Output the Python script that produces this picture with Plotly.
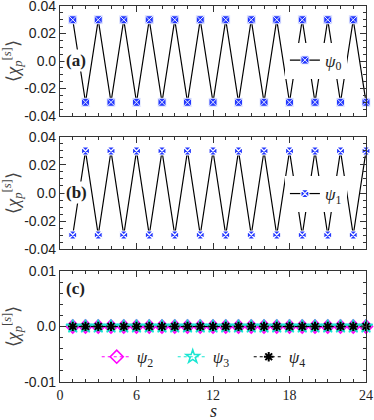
import plotly.graph_objects as go
from plotly.subplots import make_subplots

# data
s = list(range(1, 25))
psi0 = [0.03, -0.03, 0.03, -0.03, 0.03, -0.03, 0.03, -0.03, 0.03, -0.03, 0.03, -0.03,
        0.03, -0.03, 0.03, -0.03, 0.03, -0.03, 0.03, -0.03, 0.03, -0.03, 0.03, -0.03]
psi1 = [-0.03, 0.03, -0.03, 0.03, -0.03, 0.03, -0.03, 0.03, -0.03, 0.03, -0.03, 0.03,
        -0.03, 0.03, -0.03, 0.03, -0.03, 0.03, -0.03, 0.03, -0.03, 0.03, -0.03, 0.03]
psi2 = [0.0] * 24
psi3 = [0.0] * 24
psi4 = [0.0] * 24

ab_ticks = [-0.04, -0.02, 0.0, 0.02, 0.04]
ab_labels = ["-0.04", "-0.02", "0.0", "0.02", "0.04"]
c_ticks = [-0.01, 0.0, 0.01]
c_labels = ["-0.01", "0.0", "0.01"]
x_ticks = [0, 6, 12, 18, 24]

SERIF = "Liberation Serif"
SANS = "Liberation Sans"
BLUE = "#2438ff"

fig = make_subplots(rows=3, cols=1, shared_xaxes=True)

fig.add_trace(go.Scatter(
    x=s, y=psi0, mode="lines+markers", name="<i>ψ</i><sub>0</sub>",
    line=dict(color="black", width=1.2),
    marker=dict(symbol="square-x", size=8, color=BLUE, line=dict(color="#e8ecff", width=1)),
    cliponaxis=False, legend="legend", showlegend=True), row=1, col=1)

fig.add_trace(go.Scatter(
    x=s, y=psi1, mode="lines+markers", name="<i>ψ</i><sub>1</sub>",
    line=dict(color="black", width=1.2),
    marker=dict(symbol="square-x", size=8, color=BLUE, line=dict(color="white", width=1.2)),
    cliponaxis=False, legend="legend2", showlegend=True), row=2, col=1)

fig.add_trace(go.Scatter(
    x=s, y=psi2, mode="lines+markers", name="<i>ψ</i><sub>2</sub>",
    line=dict(color="magenta", width=1.2, dash="dot"),
    marker=dict(symbol="diamond-open", size=10, color="magenta", line=dict(width=1.6)),
    cliponaxis=False, legend="legend3"), row=3, col=1)

fig.add_trace(go.Scatter(
    x=s, y=psi3, mode="lines+markers", name="<i>ψ</i><sub>3</sub>",
    line=dict(color="#19e6d2", width=1.2, dash="dot"),
    marker=dict(symbol="star-open", size=10, color="#19e6d2", line=dict(width=1.5)),
    cliponaxis=False, legend="legend3"), row=3, col=1)

fig.add_trace(go.Scatter(
    x=s, y=psi4, mode="lines+markers", name="<i>ψ</i><sub>4</sub>",
    line=dict(color="black", width=1.2, dash="dot"),
    marker=dict(symbol="asterisk-open", size=8, color="black", line=dict(width=2)),
    cliponaxis=False, legend="legend3"), row=3, col=1)

axis_common = dict(showline=True, linecolor="#333", linewidth=1.2, mirror="allticks",
                   ticks="inside", ticklen=6, tickcolor="#333", showgrid=False,
                   zeroline=False, automargin=False, ticklabeloverflow="allow")

domains = [[0.7074, 1.0], [0.3537, 0.6516], [0.0, 0.2952]]
for i in range(3):
    fig.update_xaxes(axis_common, range=[0, 24], tickvals=x_ticks,
                     minor=dict(dtick=1, ticklen=3, ticks="inside", tickcolor="#333"),
                     showticklabels=(i == 2), tickfont=dict(family=SERIF, size=14, color="#222"),
                     row=i + 1, col=1)
    fig.update_yaxes(axis_common, domain=domains[i], row=i + 1, col=1,
                     tickfont=dict(family=SANS, size=14, color="#222"),
                     title=dict(text="⟨<i>χ</i><sub><i>p</i></sub><sup>[<i>s</i>]</sup>⟩",
                                font=dict(family=SERIF, size=18, color="#444"), standoff=5))

fig.update_yaxes(range=[-0.04, 0.04], tickvals=ab_ticks, ticktext=ab_labels,
                 minor=dict(dtick=0.005, ticklen=3, ticks="inside", tickcolor="#333"), row=1, col=1)
fig.update_yaxes(range=[-0.04, 0.04], tickvals=ab_ticks, ticktext=ab_labels,
                 minor=dict(dtick=0.005, ticklen=3, ticks="inside", tickcolor="#333"), row=2, col=1)
fig.update_yaxes(range=[-0.01, 0.01], tickvals=c_ticks, ticktext=c_labels,
                 minor=dict(dtick=0.002, ticklen=3, ticks="inside", tickcolor="#333"), row=3, col=1)

leg_font = dict(family=SERIF, size=17, color="#222")
panel_font = dict(family=SERIF, size=17, color="#222")
fig.update_layout(
    width=374, height=420,
    margin=dict(l=60, r=8, t=6, b=38),
    plot_bgcolor="white", paper_bgcolor="white",
    showlegend=True,
    legend=dict(x=0.735, y=0.855, xanchor="left", yanchor="middle",
                bgcolor="white", font=leg_font, itemwidth=30),
    legend2=dict(x=0.735, y=0.50, xanchor="left", yanchor="middle",
                 bgcolor="white", font=leg_font, itemwidth=30),
    legend3=dict(x=0.12, y=0.066, xanchor="left", yanchor="middle", orientation="h",
                 bgcolor="rgba(0,0,0,0)", font=leg_font, itemwidth=30,
                 entrywidth=31, entrywidthmode="pixels"),
    annotations=[
        dict(text="<b>(a)</b>", x=0.012, y=0.856, xref="paper", yref="paper", xanchor="left",
             yanchor="middle", showarrow=False, bgcolor="white", font=panel_font),
        dict(text="<b>(b)</b>", x=0.012, y=0.503, xref="paper", yref="paper", xanchor="left",
             yanchor="middle", showarrow=False, bgcolor="white", font=panel_font),
        dict(text="<b>(c)</b>", x=0.012, y=0.25, xref="paper", yref="paper", xanchor="left",
             yanchor="middle", showarrow=False, font=panel_font),
        dict(text="<i>s</i>", x=0.5, y=-0.076, xref="paper", yref="paper", xanchor="center",
             yanchor="middle", showarrow=False, font=dict(family=SERIF, size=18, color="#222")),
    ],
)

# page body has a default 8px margin, drop it so the figure sits at the window corner
fig.write_html("out.html", config={"displayModeBar": False},
               post_script="document.body.style.margin='0';")
